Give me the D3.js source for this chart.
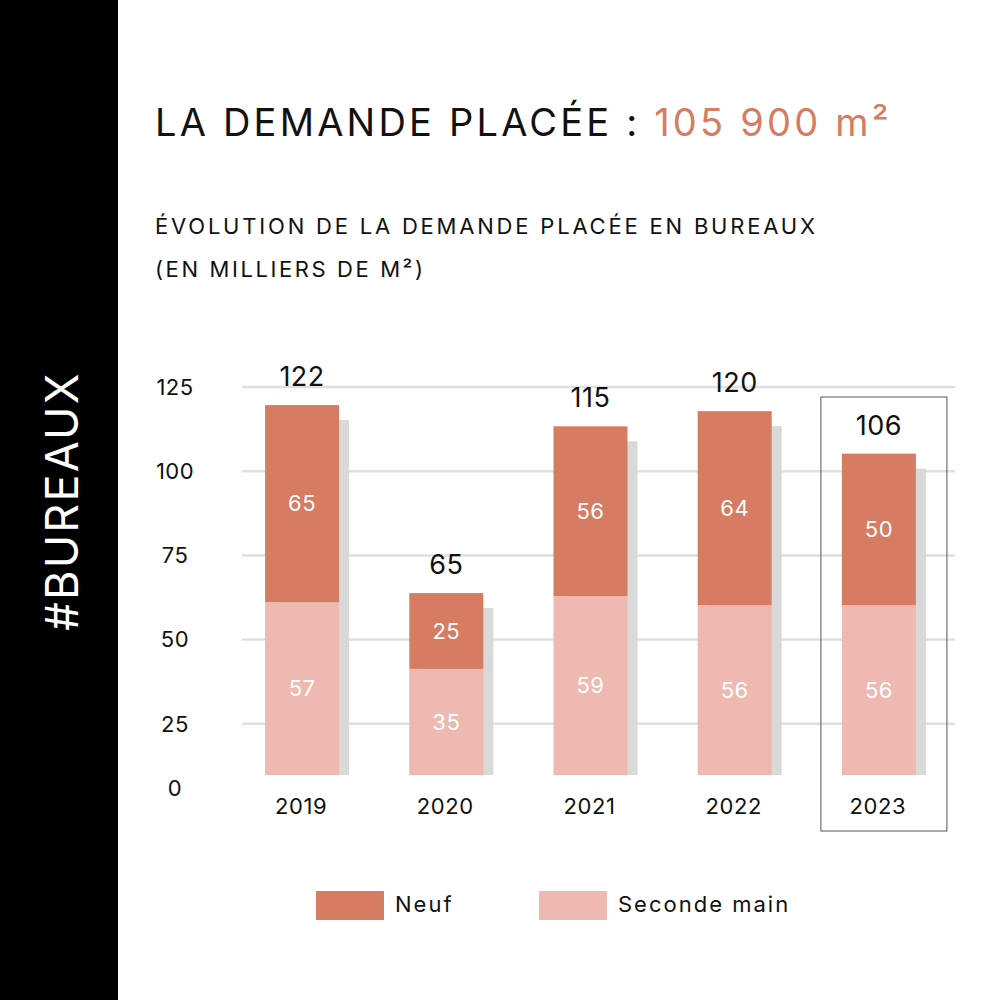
<!DOCTYPE html>
<html><head><meta charset="utf-8">
<script src="https://cdn.jsdelivr.net/npm/d3@7"></script>
<style>html,body{margin:0;padding:0;background:#fff;}</style>
</head><body>
<script>
const years = ["2019","2020","2021","2022","2023"];
const neuf = [65, 25, 56, 64, 50];
const secondeMain = [57, 35, 59, 56, 56];
const totals = [122, 65, 115, 120, 106];
const yTicks = [0, 25, 50, 75, 100, 125];
const seriesNames = ["Neuf", "Seconde main"];
const highlightYear = "2023";

const FONT = "Inter, 'Noto Sans', sans-serif";
const cNeuf = "#D67C62", cSec = "#EEB9B0";

const svg = d3.select("body").append("svg").attr("width",1000).attr("height",1000);
svg.append("rect").attr("width",1000).attr("height",1000).attr("fill","#fff");
svg.append("rect").attr("x",0).attr("y",0).attr("width",118).attr("height",1000).attr("fill","#000");
svg.append("text").attr("transform","translate(78,501) rotate(-90)").attr("text-anchor","middle")
  .attr("fill","#fff").attr("font-family",FONT).attr("font-size",45).attr("letter-spacing",2.2).text("#BUREAUX");

const title = svg.append("text").attr("x",155).attr("y",136).attr("font-family",FONT).attr("font-size",38).attr("letter-spacing",3.2);
title.append("tspan").attr("fill","#111").text("LA DEMANDE PLACÉE : ");
title.append("tspan").attr("fill",cNeuf).text("105 900 m²");

svg.append("text").attr("x",155).attr("y",234).attr("font-family",FONT).attr("font-size",22).attr("letter-spacing",2.8).attr("fill","#111")
  .text("ÉVOLUTION DE LA DEMANDE PLACÉE EN BUREAUX");
svg.append("text").attr("x",155).attr("y",277).attr("font-family",FONT).attr("font-size",22).attr("letter-spacing",2.6).attr("fill","#111")
  .text("(EN MILLIERS DE M²)");

// scales
const x = d3.scalePoint().domain(years).range([230, 951]).padding(0.5);
const bw = 74;
const yBar = d3.scaleLinear().domain([0, 125]).range([775, 396]);
const yGrid = d3.scaleLinear().domain([0, 125]).range([808, 387]);

// gridlines
svg.append("g").selectAll("line").data(yTicks.filter(d=>d>0)).join("line")
  .attr("x1",242).attr("x2",955).attr("y1",d=>yGrid(d)).attr("y2",d=>yGrid(d))
  .attr("stroke","#E0E0E0").attr("stroke-width",2.5);
svg.append("g").selectAll("text").data(yTicks).join("text")
  .attr("x",175).attr("y",d=> d===0 ? yBar(0)+13 : yGrid(d)).attr("dy","0.35em").attr("text-anchor","middle")
  .attr("font-family",FONT).attr("font-size",22).attr("letter-spacing",0.5).attr("fill","#111").text(d=>d);

const data = years.map((y,i)=>({year:y, neuf:neuf[i], sec:secondeMain[i], total:totals[i]}));

// shadows
svg.append("g").selectAll("rect").data(data).join("rect")
  .attr("x",d=>x(d.year)-bw/2+10).attr("width",bw)
  .attr("y",d=>yBar(d.neuf+d.sec)+15).attr("height",d=>yBar(0)-yBar(d.neuf+d.sec)-15)
  .attr("fill","#D9D9D9");

// seconde main (bottom)
svg.append("g").selectAll("rect").data(data).join("rect")
  .attr("x",d=>x(d.year)-bw/2).attr("width",bw)
  .attr("y",d=>yBar(d.sec)).attr("height",d=>yBar(0)-yBar(d.sec)).attr("fill",cSec);
// neuf (top)
svg.append("g").selectAll("rect").data(data).join("rect")
  .attr("x",d=>x(d.year)-bw/2).attr("width",bw)
  .attr("y",d=>yBar(d.sec+d.neuf)).attr("height",d=>yBar(d.sec)-yBar(d.sec+d.neuf)).attr("fill",cNeuf);

// inner labels
const lab = svg.append("g").attr("font-family",FONT).attr("font-size",22).attr("letter-spacing",0.5).attr("fill","#fff").attr("text-anchor","middle");
lab.selectAll(".ls").data(data).join("text").attr("x",d=>x(d.year)).attr("y",d=>(yBar(0)+yBar(d.sec))/2).attr("dy","0.35em").text(d=>d.sec);
lab.selectAll(".ln").data(data).join("text").attr("x",d=>x(d.year)).attr("y",d=>(yBar(d.sec)+yBar(d.sec+d.neuf))/2).attr("dy","0.35em").text(d=>d.neuf);

// totals
svg.append("g").selectAll("text").data(data).join("text")
  .attr("x",d=>x(d.year)).attr("y",d=>yBar(d.neuf+d.sec)-19).attr("text-anchor","middle")
  .attr("font-family",FONT).attr("font-size",27).attr("letter-spacing",0.5).attr("fill","#111").text(d=>d.total);

// year labels
svg.append("g").selectAll("text").data(years).join("text")
  .attr("x",d=>x(d)-1).attr("y",814).attr("text-anchor","middle")
  .attr("font-family",FONT).attr("font-size",22).attr("letter-spacing",0.6).attr("fill","#111").text(d=>d);

// highlight box
svg.append("rect").attr("x",x(highlightYear)-58).attr("y",397).attr("width",126).attr("height",434)
  .attr("fill","none").attr("stroke","#555").attr("stroke-width",1);

// legend
const leg = svg.append("g");
const legX = [316, 539];
[cNeuf, cSec].forEach((c,i)=>{
  leg.append("rect").attr("x",legX[i]).attr("y",891).attr("width",68).attr("height",29).attr("fill",c);
  leg.append("text").attr("x",legX[i]+79).attr("y",912).attr("font-family",FONT).attr("font-size",22).attr("letter-spacing",2).attr("fill","#111").text(seriesNames[i]);
});
</script>
</body></html>
